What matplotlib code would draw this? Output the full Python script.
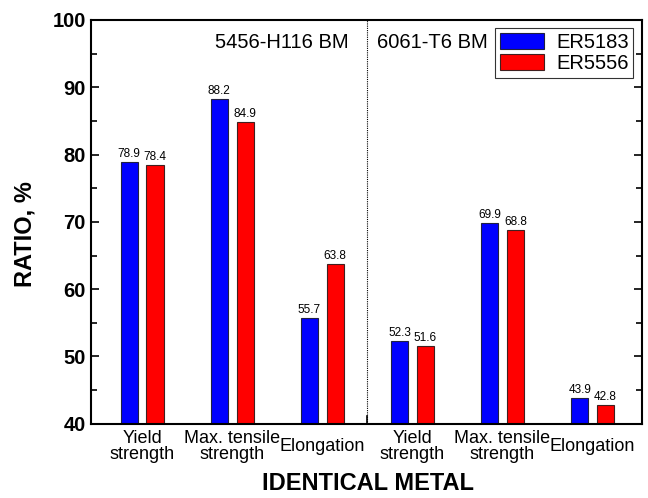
import numpy as np
import matplotlib.pyplot as plt
from matplotlib.ticker import MultipleLocator

plt.rcParams['font.family'] = ['Liberation Sans', 'DejaVu Sans']

categories = ["Yield\nstrength", "Max. tensile\nstrength", "Elongation",
              "Yield\nstrength", "Max. tensile\nstrength", "Elongation"]
er5183 = [78.9, 88.2, 55.7, 52.3, 69.9, 43.9]
er5556 = [78.4, 84.9, 63.8, 51.6, 68.8, 42.8]
series_names = ["ER5183", "ER5556"]
group_titles = ["5456-H116 BM", "6061-T6 BM"]


def plot() -> None:
  fig = plt.figure(figsize=(6.48, 4.98), dpi=100)
  ax = fig.add_axes([0.140, 0.149, 0.851, 0.811])

  x = np.arange(1, len(categories) + 1)
  off, w = 0.143, 0.19
  b1 = ax.bar(x - off, er5183, w, bottom=0, color='#0000ff',
              edgecolor='#202040', linewidth=0.8, label=series_names[0])
  b2 = ax.bar(x + off, er5556, w, bottom=0, color='#ff0000',
              edgecolor='#402020', linewidth=0.8, label=series_names[1])
  for bars, vals in [(b1, er5183), (b2, er5556)]:
    for b, v in zip(bars, vals):
      ax.text(b.get_x() + b.get_width() / 2, v + 0.3, f"{v:.1f}",
              ha='center', va='bottom', fontsize=8.5)

  ax.set_xlim(0.43, 6.55)
  ax.set_ylim(40, 100)
  ax.yaxis.set_major_locator(MultipleLocator(10))
  ax.yaxis.set_minor_locator(MultipleLocator(5))
  ax.tick_params(axis='y', which='both', direction='in', right=True,
                 labelsize=14.5, width=1.2)
  ax.tick_params(axis='y', which='major', length=6)
  ax.tick_params(axis='y', which='minor', length=4)
  for lab in ax.get_yticklabels():
    lab.set_fontweight('bold')

  ax.set_xticks(x)
  ax.set_xticklabels(categories, fontsize=13, va='center', linespacing=0.95)
  ax.tick_params(axis='x', length=0, pad=16.5)

  # divider between the two base metals
  ax.axvline(3.5, color='black', linestyle=(0, (1, 1)), linewidth=0.8)
  ax.plot([3.5, 3.5], [40, 41.2], color='black', linewidth=1.2)

  ax.text(3.29, 96.6, group_titles[0], fontsize=14.5, ha='right', va='center')
  ax.text(3.61, 96.6, group_titles[1], fontsize=14.5, ha='left', va='center')

  leg = ax.legend(loc='upper right', bbox_to_anchor=(0.984, 0.979),
                  fontsize=14.5, frameon=True, fancybox=False,
                  handlelength=2.2, handleheight=0.85, handletextpad=0.6,
                  borderpad=0.22, labelspacing=0.12, borderaxespad=0)
  leg.get_frame().set_edgecolor('black')
  leg.get_frame().set_linewidth(0.8)

  for s in ax.spines.values():
    s.set_linewidth(1.5)

  ax.set_ylabel("RATIO, %", fontsize=17, fontweight='bold', va='center')
  ax.yaxis.set_label_coords(-0.12, 0.47)
  ax.set_xlabel("IDENTICAL METAL", fontsize=17, fontweight='bold', va='center')
  ax.xaxis.set_label_coords(0.503, -0.149)

  fig.savefig("out.png", dpi=100)


if __name__ == "__main__":
  plot()
